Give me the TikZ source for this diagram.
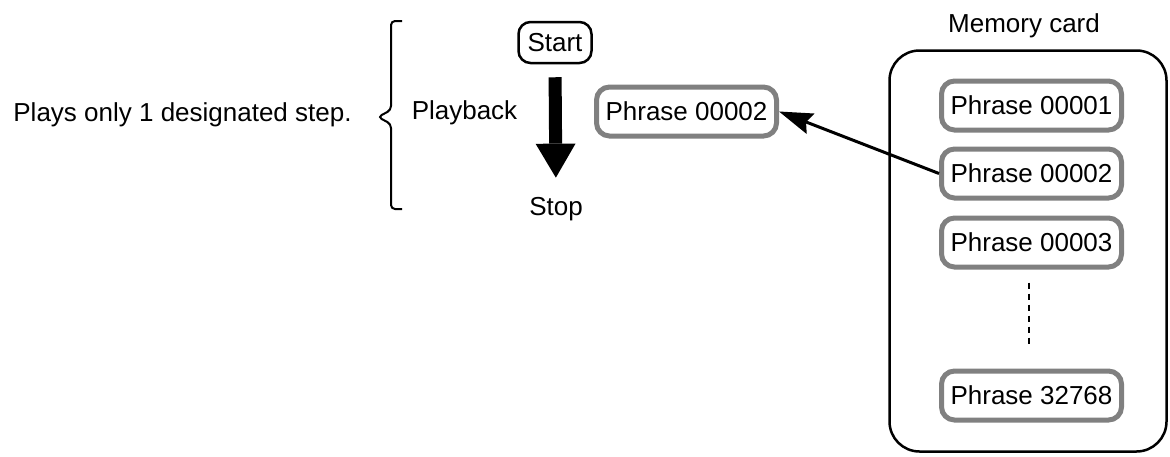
\documentclass[tikz,border=0pt]{standalone}
\usepackage{fontspec}
\setmainfont{Liberation Sans}
\usetikzlibrary{arrows.meta}
\begin{document}
\begin{tikzpicture}[x=1pt,y=-1pt,
  every node/.style={font=\fontsize{26pt}{30pt}\selectfont, inner sep=0pt},
  phrase/.style={draw=black!50, line width=5pt, rounded corners=13pt, minimum width=180pt, minimum height=49pt, fill=white},
  plain/.style={anchor=base},
  startbox/.style={draw, line width=2.5pt, rounded corners=12pt, minimum width=73pt, minimum height=41pt},
  cardbox/.style={draw, line width=2.5pt, rounded corners=30pt, minimum width=277pt, minimum height=401pt},
  link/.style={line width=3pt, -{Stealth[length=34pt,width=22pt,inset=5pt,line width=0pt]}},
  bigarrow/.style={line width=13pt, -{Triangle[length=34pt,width=40pt,line width=0pt]}},
  bracket/.style={line width=2pt, rounded corners=4pt},
  ]
\useasboundingbox (0,0) rectangle (1170,456);
% left side
\node[plain] (plays) at (182.5,121) {Plays only 1 designated step.};
\draw[bracket] (402,21) -- (391,21) -- (391,110) -- (378,117) -- (391,124) -- (391,209) -- (402,209);
\node[plain] (playback) at (464.5,119) {Playback};
\node[startbox] (start) at (555,42.5) {Start};
\node[plain] (stop) at (556,215) {Stop};
\draw[bigarrow, shorten <=13pt, shorten >=19pt] (start.south) -- (stop.north);
\node[phrase] (lp2) at (686.5,111.5) {Phrase 00002};
% memory card
\node[plain] (mclabel) at (1024,32) {Memory card};
\node[cardbox] (card) at (1028,251) {};
\node[phrase] (p1) at (1031.5,105.5) {Phrase 00001};
\node[phrase] (p2) at (1031.5,173.5) {Phrase 00002};
\node[phrase] (p3) at (1031.5,242.5) {Phrase 00003};
\node[phrase] (p4) at (1031.5,395.5) {Phrase 32768};
\draw[line width=2pt, dash pattern=on 6pt off 5pt, shorten <=13pt, shorten >=25pt] ([xshift=-3pt]p3.south) -- ([xshift=-3pt]p4.north);
\draw[link] (p2.west) -- (lp2.east);
\end{tikzpicture}
\end{document}
